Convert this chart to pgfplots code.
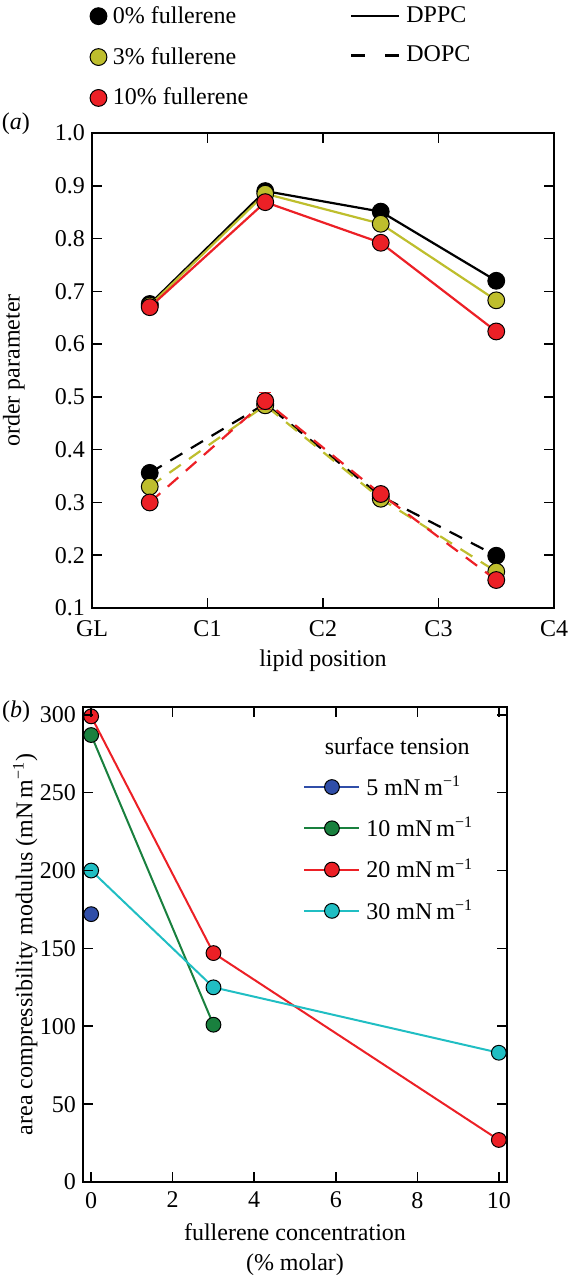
\documentclass[border=0pt]{standalone}
\usepackage{fontspec}
\setmainfont{Liberation Serif}
\usepackage{pgfplots}
\pgfplotsset{compat=1.18}
\definecolor{cblk}{RGB}{0,0,0}
\definecolor{cyel}{RGB}{190,190,45}
\definecolor{cred}{RGB}{236,32,38}
\definecolor{cblu}{RGB}{48,78,168}
\definecolor{cgrn}{RGB}{25,128,62}
\definecolor{ccyn}{RGB}{32,190,195}
\pgfplotsset{
  every axis/.append style={font=\rmfamily\fontsize{12}{15}\selectfont},
  myaxis/.style={
    scale only axis, axis on top, clip mode=individual,
    tick align=inside, tick pos=both,
    axis line style={line width=1.2pt},
    major tick style={line width=0.8pt, black},
    major tick length=5pt,
    /pgf/number format/assume math mode=true,
    ticklabel style={font=\rmfamily\fontsize{12}{15}\selectfont},
  },
  topmark/.style={mark=*, mark size=4.2pt, mark options={solid, line width=0.5pt, draw=black, fill=#1}},
  botmark/.style={mark=*, mark size=3.7pt, mark options={solid, line width=0.5pt, draw=black, fill=#1}},
  mkimg/.style={legend image code/.code={\draw[##1] plot coordinates {(0pt,0pt)};}},
  lnimg/.style={legend image code/.code={\draw[##1] (0pt,0pt) -- (24pt,0pt);}},
  blimg/.style={legend image code/.code={\draw[mark repeat=2,mark phase=2,##1] plot coordinates {(0pt,0pt)(13.75pt,0pt)(27.5pt,0pt)};}},
}
\begin{document}
\begin{tikzpicture}
\useasboundingbox (0pt,0pt) rectangle (285pt,-637.5pt);
% ---------------- panel (a) ----------------
\begin{axis}[myaxis,
  at={(46pt,-66.5pt)}, anchor=north west,
  width=231pt, height=237.5pt,
  xmin=0, xmax=4, ymin=0.1, ymax=1.0,
  xtick={0,1,2,3,4}, xticklabels={GL,C1,C2,C3,C4},
  xticklabel style={yshift=-3pt},
  ytick={0.1,0.2,0.3,0.4,0.5,0.6,0.7,0.8,0.9,1.0},
  yticklabel style={/pgf/number format/fixed, /pgf/number format/fixed zerofill, /pgf/number format/precision=1},
  xlabel={lipid position}, ylabel={order parameter},
  xlabel style={at={(axis description cs:0.5,-0.112)}, anchor=center},
  ylabel style={at={(axis description cs:-0.169,0.5)}, anchor=center},
  legend style={draw=none, fill=none, at={(axis description cs:-0.005,1.272)}, anchor=north west,
    row sep=8.5pt, column sep=2pt, inner sep=0pt, nodes={inner sep=1pt}, font=\rmfamily\fontsize{12}{15}\selectfont},
  legend cell align=left,
]
\addlegendimage{only marks, mkimg, topmark=cblk}
\addlegendimage{only marks, mkimg, topmark=cyel}
\addlegendimage{only marks, mkimg, topmark=cred}
\legend{0\% fullerene, 3\% fullerene, 10\% fullerene}
% DPPC
\addplot[cblk, line width=1.1pt, topmark=cblk] coordinates {(0.5,0.676)(1.5,0.890)(2.5,0.851)(3.5,0.720)};
\addplot[cyel, line width=1.1pt, topmark=cyel] coordinates {(0.5,0.673)(1.5,0.885)(2.5,0.828)(3.5,0.683)};
\addplot[cred, line width=1.1pt, topmark=cred] coordinates {(0.5,0.670)(1.5,0.869)(2.5,0.792)(3.5,0.624)};
% DOPC
\addplot[cblk, line width=1.1pt, dash pattern=on 7pt off 5pt, topmark=cblk] coordinates {(0.5,0.356)(1.5,0.487)(2.5,0.312)(3.5,0.199)};
\addplot[cyel, line width=1.1pt, dash pattern=on 7pt off 5pt, topmark=cyel] coordinates {(0.5,0.330)(1.5,0.484)(2.5,0.307)(3.5,0.169)};
\addplot[cred, line width=1.1pt, dash pattern=on 7pt off 5pt, topmark=cred,
  error bars/.cd, y dir=both, y explicit, error bar style={solid, line width=0.8pt, cred}, error mark options={rotate=90, mark size=3pt, cred, line width=0.8pt}]
  coordinates {(0.5,0.300) +- (0,0.009) (1.5,0.492) +- (0,0.016) (2.5,0.316) +- (0,0.005) (3.5,0.153) +- (0,0.005)};
\node[anchor=center] at (axis description cs:-0.165,1.019) {(\textit{a})};
\end{axis}
\begin{axis}[hide axis, scale only axis,
  at={(46pt,-66.5pt)}, anchor=north west,
  width=231pt, height=237.5pt,
  xmin=0, xmax=1, ymin=0, ymax=1,
  legend style={draw=none, fill=none, at={(axis description cs:0.558,1.272)}, anchor=north west,
    row sep=8.5pt, column sep=2pt, inner sep=0pt, nodes={inner sep=1pt}, font=\rmfamily\fontsize{12}{15}\selectfont},
  legend cell align=left,
]
\addlegendimage{lnimg, black, line width=1.1pt}
\addlegendimage{lnimg, black, line width=1.1pt, dash pattern=on 7pt off 10pt}
\legend{DPPC, DOPC}
\end{axis}
% ---------------- panel (b) ----------------
\begin{axis}[myaxis,
  at={(41.5pt,-353.5pt)}, anchor=north west,
  width=212pt, height=237.5pt,
  xmin=-0.2, xmax=10.2, ymin=0, ymax=305,
  xtick={0,2,4,6,8,10}, ytick={0,50,100,150,200,250,300},
  xticklabel style={yshift=-1.5pt},
  xlabel={fullerene concentration\\(\% molar)},
  ylabel={area compressibility modulus (mN\,m\textsuperscript{−1})},
  xlabel style={align=center, at={(axis description cs:0.5,-0.143)}, anchor=center},
  ylabel style={at={(axis description cs:-0.136,0.5)}, anchor=center},
  legend style={draw=none, fill=none, at={(axis description cs:0.519,0.86)}, anchor=north west,
    row sep=7.5pt, column sep=2pt, inner sep=0pt, nodes={inner sep=1pt}, font=\rmfamily\fontsize{12}{15}\selectfont},
  legend cell align=left,
]
\addplot[cblu, line width=1pt, botmark=cblu, blimg] coordinates {(0,172)};
\addplot[cgrn, line width=1pt, botmark=cgrn, blimg] coordinates {(0,287)(3,101)};
\addplot[cred, line width=1pt, botmark=cred, blimg] coordinates {(0,299)(3,147)(10,27)};
\addplot[ccyn, line width=1pt, botmark=ccyn, blimg] coordinates {(0,200)(3,125)(10,83)};
\legend{5 mN\,m\textsuperscript{−1}, 10 mN\,m\textsuperscript{−1}, 20 mN\,m\textsuperscript{−1}, 30 mN\,m\textsuperscript{−1}}
\node[anchor=center] at (axis description cs:0.741,0.917) {surface tension};
\node[anchor=center] at (axis description cs:-0.158,0.99) {(\textit{b})};
\end{axis}
\end{tikzpicture}
\end{document}
